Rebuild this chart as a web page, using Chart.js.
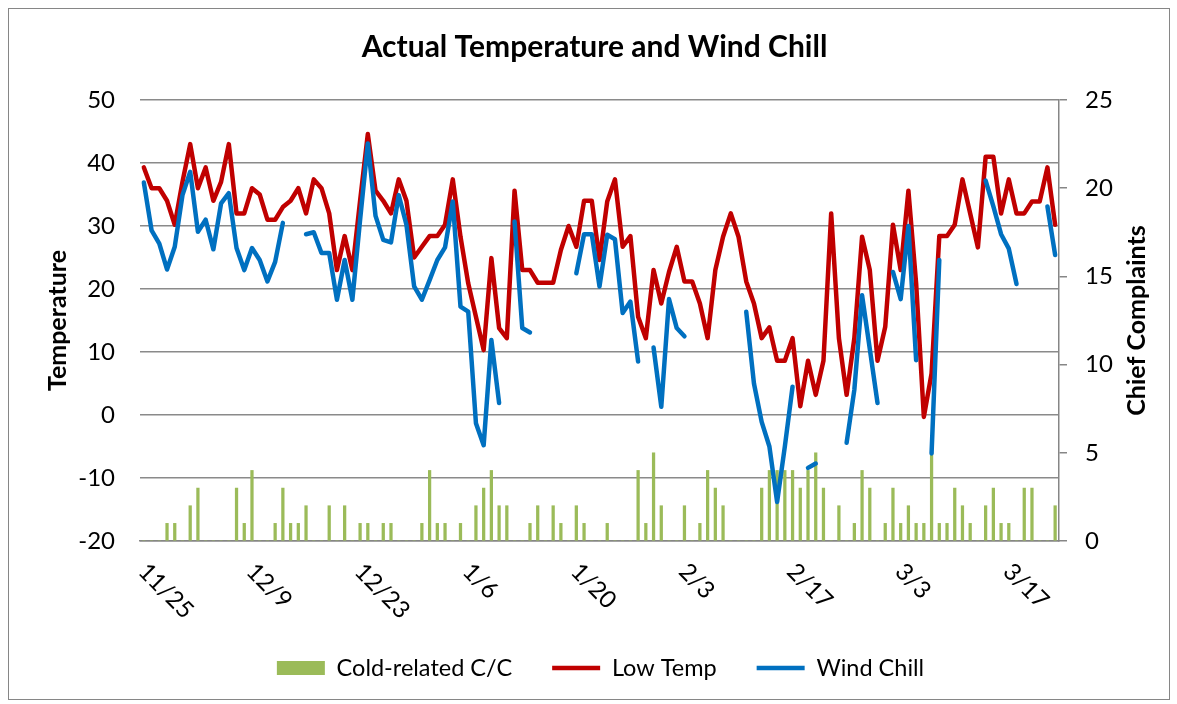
<!DOCTYPE html>
<html><head><meta charset="utf-8">
<script src="https://cdn.jsdelivr.net/npm/chart.js@4.4.1/dist/chart.umd.min.js"></script>
<style>
html,body{margin:0;padding:0;background:#fff;}
#wrap{position:relative;width:1177px;height:704px;overflow:hidden;}
#frame{position:absolute;left:8px;top:8px;width:1160px;height:690px;border:1px solid #868686;pointer-events:none;}
</style></head><body>
<div id="wrap"><canvas id="c" width="1177" height="704"></canvas><div id="frame"></div></div>
<script>
// Categories: daily dates 11/25 .. 3/23
const monthLen = {11:30, 12:31, 1:31, 2:28, 3:31};
const categories = [];
(function(){ let m = 11, d = 25; for (let k = 0; k < 119; k++) { categories.push(m + '/' + d); d++; if (d > monthLen[m]) { d = 1; m = m % 12 + 1; } } })();

const xTickLabels = ['11/25','12/9','12/23','1/6','1/20','2/3','2/17','3/3','3/17'];

const lowTemp = [
39.3,36,36,34,30.2,37,43,36,39.3,34,
37,43,32,32,36,35,31,31,33,34,
36,32,37.4,36,32,23,28.4,23,34,44.6,
35.6,34,32,37.4,34,25,26.7,28.4,28.4,30.2,
37.4,28.3,20.9,15.6,10.3,24.9,13.8,12.2,35.6,23,
23,21,21,21,26.2,30,26.7,34,34,24.6,
33.9,37.4,26.7,28.4,15.6,12.2,23,17.7,22.7,26.7,
21.2,21.2,17.7,12.2,23,28.3,32,28.3,21.2,17.7,
12.2,13.9,8.6,8.6,12.2,1.4,8.6,3.2,8.6,32,
12.2,3.2,12.2,28.3,23,8.6,14,30.2,23,35.6,
20.9,-0.3,6.6,28.4,28.4,30.2,37.4,32,26.6,41,
41,32,37.4,32,32,33.9,33.9,39.3,30.2
];

const windChill = [
36.9,29.3,27.2,23.1,26.7,34.9,38.6,29.1,31,26.3,
33.6,35.2,26.5,23,26.5,24.6,21.2,24.3,30.5,null,
null,28.7,29,25.7,25.7,18.3,24.6,18.3,31,43.1,
31.6,27.8,27.4,34.9,30.2,20.4,18.3,21.4,24.6,26.6,
33.9,17.2,16.4,-1.3,-4.8,11.9,1.9,null,30.7,13.8,
13.1,null,null,null,null,null,22.5,28.7,28.7,20.4,
28.6,27.9,16.2,18,8.5,null,10.7,1.3,18.4,13.8,
12.5,null,null,null,null,null,null,null,16.4,5,
-1.1,-5,-13.8,-5,4.5,null,-8.4,-7.7,null,null,
null,-4.4,4,19,10.5,1.9,null,22.7,18.4,30,
8.7,null,-6.1,24.6,null,null,null,null,null,37.2,
33.1,28.7,26.4,20.8,null,null,null,33.1,25.4
];

const coldCC = [
0,0,0,1,1,0,2,3,0,0,
0,0,3,1,4,0,0,1,3,1,
1,2,0,0,2,0,2,0,1,1,
0,1,1,0,0,0,1,4,1,1,
0,1,0,2,3,4,2,2,0,0,
1,2,0,2,1,0,2,1,0,0,
1,0,0,0,4,1,5,2,0,0,
2,0,1,4,3,2,0,0,0,0,
3,4,4,4,4,3,4,5,3,0,
2,0,1,4,3,0,1,3,1,2,
1,1,5,1,1,3,2,1,0,2,
3,1,1,0,3,3,0,0,2
];

const FONT = 'Lato';

const customText = {
  id: 'customText',
  afterDraw(chart) {
    const ctx = chart.ctx;
    const xs = chart.scales.x;
    const area = chart.chartArea;
    ctx.save();
    ctx.fillStyle = '#000';
    ctx.font = '24px ' + FONT;
    ctx.textAlign = 'left';
    ctx.textBaseline = 'top';
    xTickLabels.forEach(lbl => {
      const idx = categories.indexOf(lbl);
      const px = xs.getPixelForValue(idx);
      ctx.save();
      ctx.translate(px + 7, area.bottom + 18);
      ctx.rotate(Math.PI / 4);
      ctx.fillText(lbl, 0, 0);
      ctx.restore();
    });
    const yr = chart.scales.yR;
    ctx.font = 'bold 25px ' + FONT;
    ctx.textAlign = 'center';
    ctx.textBaseline = 'middle';
    ctx.translate(1137, (yr.top + yr.bottom) / 2);
    ctx.rotate(-Math.PI / 2);
    ctx.fillText('Chief Complaints', 0, 0);
    ctx.restore();
  }
};

const shiftPlugin = {
  id: 'shiftPlugin',
  afterLayout(chart) {
    if (chart.legend) { chart.legend.left += 12; chart.legend.right += 12; }
    if (chart.titleBlock) { chart.titleBlock.left += 6; chart.titleBlock.right += 6; }
  }
};

new Chart(document.getElementById('c'), {
  type: 'bar',
  data: {
    labels: categories,
    datasets: [
      { type: 'bar', label: 'Cold-related C/C', data: coldCC, yAxisID: 'yR',
        backgroundColor: '#9BBB59', borderWidth: 0, barThickness: 2.6, order: 3, pointStyle: 'rect' },
      { type: 'line', label: 'Low Temp', data: lowTemp, yAxisID: 'y',
        borderColor: '#C00000', backgroundColor: '#C00000', borderWidth: 4.5, pointRadius: 0,
        tension: 0, spanGaps: false, order: 2, pointStyle: 'line',
        borderJoinStyle: 'round', borderCapStyle: 'round' },
      { type: 'line', label: 'Wind Chill', data: windChill, yAxisID: 'y',
        borderColor: '#0070C0', backgroundColor: '#0070C0', borderWidth: 4.5, pointRadius: 0,
        tension: 0, spanGaps: false, order: 1, pointStyle: 'line',
        borderJoinStyle: 'round', borderCapStyle: 'round' }
    ]
  },
  options: {
    responsive: false, animation: false, devicePixelRatio: 1,
    layout: { padding: { left: 0, right: 0, top: 0, bottom: 14.25 } },
    plugins: {
      title: { display: true, text: 'Actual Temperature and Wind Chill', color: '#000',
        font: { family: FONT, size: 30, weight: 'bold' }, padding: { top: 29, bottom: 35 } },
      legend: { position: 'bottom',
        labels: { usePointStyle: true, pointStyleWidth: 48, boxHeight: 14, padding: 40, color: '#000',
          font: { family: FONT, size: 23.5 }, sort: (a, b) => a.datasetIndex - b.datasetIndex } },
      tooltip: { enabled: false }
    },
    scales: {
      x: { type: 'category', offset: true, grid: { display: false },
        border: { display: true, color: '#868686', width: 1.5 },
        ticks: { display: false }, afterFit: s => { s.height = 75.25; } },
      y: { position: 'left', min: -20, max: 50,
        ticks: { stepSize: 10, color: '#000', font: { family: FONT, size: 24 }, padding: 25 },
        grid: { color: '#8a8a8a', lineWidth: 1.5, drawTicks: false },
        border: { display: false },
        title: { display: true, text: 'Temperature', color: '#000',
          font: { family: FONT, size: 25, weight: 'bold' }, padding: { top: 43, bottom: 0 } },
        afterFit: s => { s.width = 140; } },
      yR: { position: 'right', min: 0, max: 25,
        ticks: { stepSize: 5, color: '#000', font: { family: FONT, size: 24 }, padding: 18 },
        grid: { drawOnChartArea: false, color: '#868686', lineWidth: 1.5, tickLength: 8 },
        border: { display: true, color: '#868686', width: 1.5 },
        afterFit: s => { s.width = 118; } }
    }
  },
  plugins: [customText, shiftPlugin]
});
</script>
</body></html>
